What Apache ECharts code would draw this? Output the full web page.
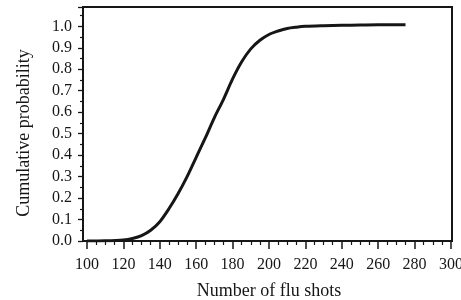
<!DOCTYPE html>
<html>
<head>
<meta charset="utf-8">
<script src="https://cdn.jsdelivr.net/npm/echarts@6/dist/echarts.min.js"></script>
<style>
  html, body { margin: 0; padding: 0; background: #fff; }
  #chart { width: 461px; height: 300px; }
</style>
</head>
<body>
<div id="chart"></div>
<script>
// cumulative probability curve
const shots = [100, 110, 120, 125, 130, 135, 140, 145, 150, 155, 160, 165, 170, 175, 180, 185, 190, 195, 200, 205, 210, 215, 220, 230, 240, 250, 260, 275]
const prob = [0, 0.001, 0.005, 0.012, 0.025, 0.05, 0.09, 0.15, 0.22, 0.30, 0.39, 0.48, 0.575, 0.66, 0.755, 0.835, 0.895, 0.935, 0.962, 0.978, 0.99, 0.996, 1.0, 1.003, 1.005, 1.006, 1.007, 1.007]

const font = 'Liberation Serif'
const ink = '#161616'

let chart = echarts.init(document.getElementById('chart'))

const points = shots.map((x, i) => [x, prob[i]])

const options = {
  backgroundColor: '#fff',
  animation: false,
  grid: [
    // frame
    { left: 83, right: 9, top: 7, bottom: 59, outerBoundsMode: 'none', show: true, borderColor: ink, borderWidth: 2, backgroundColor: 'transparent' },
    // data area
    { left: 87, right: 10, top: 7, bottom: 59, outerBoundsMode: 'none' }
  ],
  xAxis: [
    { gridIndex: 0, type: 'value', show: false, min: 0, max: 1 },
    {
      gridIndex: 1,
      type: 'value',
      min: 100,
      max: 300,
      interval: 20,
      name: 'Number of flu shots',
      nameLocation: 'middle',
      nameGap: 41,
      nameTextStyle: { fontFamily: font, fontSize: 18, color: ink },
      axisLine: { show: false },
      axisTick: { show: true, inside: false, length: 8, lineStyle: { color: ink, width: 1.5 } },
      minorTick: { show: true, splitNumber: 4, length: 4, lineStyle: { color: ink, width: 1.2 } },
      splitLine: { show: false },
      axisLabel: { fontFamily: font, fontSize: 16, color: ink, margin: 16 }
    }
  ],
  yAxis: [
    { gridIndex: 0, type: 'value', show: false, min: 0, max: 1 },
    {
      gridIndex: 1,
      type: 'value',
      min: 0,
      max: 1.09,
      interval: 0.1,
      offset: 4,
      name: 'Cumulative probability',
      nameLocation: 'middle',
      nameGap: 50,
      nameTextStyle: { fontFamily: font, fontSize: 18, color: ink, padding: [0, 18, 0, 0] },
      axisLine: { show: false },
      axisTick: { show: true, length: 5, lineStyle: { color: ink, width: 1.3 } },
      minorTick: { show: true, splitNumber: 2, length: 3, lineStyle: { color: ink, width: 1.2 } },
      splitLine: { show: false },
      axisLabel: {
        fontFamily: font, fontSize: 16, color: ink, margin: 11,
        showMaxLabel: false,
        formatter: function (v) { return v.toFixed(1) }
      }
    }
  ],
  series: [
    {
      type: 'line',
      xAxisIndex: 1,
      yAxisIndex: 1,
      data: points,
      smooth: 0.3,
      showSymbol: false,
      lineStyle: { color: ink, width: 3 }
    }
  ]
}

chart.setOption(options)
</script>
</body>
</html>
